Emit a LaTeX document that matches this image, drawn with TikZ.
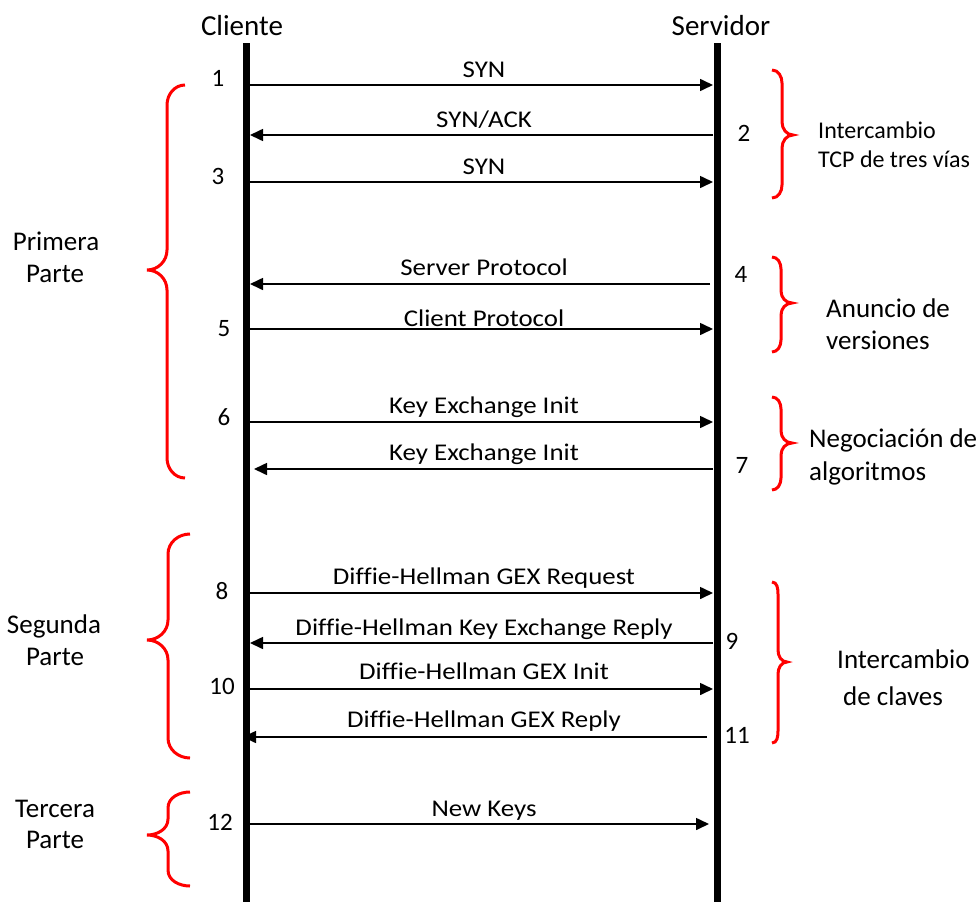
\documentclass[tikz,border=0pt]{standalone}
\usepackage{fontspec}
\setmainfont{Carlito}
\newfontfamily\msgfont[FakeStretch=1.12,Ligatures=NoCommon]{Carlito}
\usetikzlibrary{arrows.meta}
\newcommand\drawLB[7]{% xr xv xt yt ym yb r
  \draw[bracestyle] (#1,#4) to[out=180,in=90] (#2,#4+#7) -- (#2,#5-#7)
    to[out=-90,in=0] (#3,#5) to[out=0,in=90] (#2,#5+#7) -- (#2,#6-#7)
    to[out=-90,in=180] (#1,#6);}
\newcommand\drawRB[7]{% xl xv xt yt ym yb r
  \draw[bracestyle] (#1,#4) to[out=0,in=90] (#2,#4+#7) -- (#2,#5-#7)
    to[out=-90,in=180] (#3,#5) to[out=180,in=90] (#2,#5+#7) -- (#2,#6-#7)
    to[out=-90,in=0] (#1,#6);}
\begin{document}
\begin{tikzpicture}[x=1pt,y=-1pt,
  life/.style={line width=7pt},
  msg/.style={line width=1.6pt,-{Triangle[length=13pt,width=12pt]}},
  lbl/.style={font=\msgfont\fontsize{24}{28}\selectfont,inner sep=0pt,anchor=base},
  num/.style={font=\fontsize{25}{29}\selectfont,inner sep=0pt},
  hdr/.style={font=\fontsize{29}{34}\selectfont,inner sep=0pt,anchor=base},
  sidebig/.style={font=\fontsize{27}{32}\selectfont,inner sep=0pt,anchor=base west},
  sidesmall/.style={font=\fontsize{24}{28}\selectfont,inner sep=0pt,anchor=base west},
  leftlbl/.style={font=\fontsize{27}{32}\selectfont,inner sep=0pt,anchor=base},
  bracestyle/.style={red,line width=3pt}]
\path[use as bounding box] (0,0) rectangle (977,902);

% headers and lifelines
\node[hdr] (hc) at (242,35) {Cliente};
\node[hdr] (hs) at (721,35) {Servidor};
\coordinate (ct) at (246,43);
\coordinate (cb) at (246,902);
\coordinate (st) at (717,43);
\coordinate (sb) at (717,902);
\draw[life] (ct) -- (cb);
\draw[life] (st) -- (sb);

% message end points
\coordinate (c1) at (250,85);   \coordinate (s1) at (713,85);
\coordinate (c2) at (250,135);  \coordinate (s2) at (713,135);
\coordinate (c3) at (250,182);  \coordinate (s3) at (713,182);
\coordinate (c4) at (250,284);  \coordinate (s4) at (710,284);
\coordinate (c5) at (250,329);  \coordinate (s5) at (713,329);
\coordinate (c6) at (250,422);  \coordinate (s6) at (713,422);
\coordinate (c7) at (254,469);  \coordinate (s7) at (713,469);
\coordinate (c8) at (250,593);  \coordinate (s8) at (713,593);
\coordinate (c9) at (250,643);  \coordinate (s9) at (713,643);
\coordinate (c10) at (250,689); \coordinate (s10) at (713,689);
\coordinate (c11) at (243,737); \coordinate (s11) at (707,737);
\coordinate (c12) at (250,824); \coordinate (s12) at (709,824);

\draw[msg] (c1) -- (s1);
\draw[msg] (s2) -- (c2);
\draw[msg] (c3) -- (s3);
\draw[msg] (s4) -- (c4);
\draw[msg] (c5) -- (s5);
\draw[msg] (c6) -- (s6);
\draw[msg] (s7) -- (c7);
\draw[msg] (c8) -- (s8);
\draw[msg] (s9) -- (c9);
\draw[msg] (c10) -- (s10);
\draw[msg] (s11) -- (c11);
\draw[msg] (c12) -- (s12);

% message labels
\node[lbl] (m1) at (484,77) {SYN};
\node[lbl] (m2) at (484,127) {SYN/ACK};
\node[lbl] (m3) at (484,174) {SYN};
\node[lbl] (m4) at (484,275) {Server Protocol};
\node[lbl] (m5) at (484,326) {Client Protocol};
\node[lbl] (m6) at (484,413) {Key Exchange Init};
\node[lbl] (m7) at (484,460) {Key Exchange Init};
\node[lbl] (m8) at (484,584) {Diffie-Hellman GEX Request};
\node[lbl] (m9) at (484,635) {Diffie-Hellman Key Exchange Reply};
\node[lbl] (m10) at (484,679) {Diffie-Hellman GEX Init};
\node[lbl] (m11) at (484,727) {Diffie-Hellman GEX Reply};
\node[lbl] (m12) at (484,816) {New Keys};

% step numbers
\node[num] (n1) at (218,78) {1};
\node[num] (n2) at (744,133) {2};
\node[num] (n3) at (218,176) {3};
\node[num] (n4) at (741,274) {4};
\node[num] (n5) at (224,329) {5};
\node[num] (n6) at (224,417) {6};
\node[num] (n7) at (742,465) {7};
\node[num] (n8) at (222,591) {8};
\node[num] (n9) at (732,641) {9};
\node[num] (n10) at (222,686) {10};
\node[num] (n11) at (737,735) {11};
\node[num] (n12) at (220,822) {12};

% left braces
\drawLB{185}{167}{147}{85}{270}{478}{20}
\drawLB{190}{168}{147}{534}{640}{758}{20}
\drawLB{190}{168}{147}{792}{835}{886}{16}

% right braces
\drawRB{772}{782}{793}{70}{135}{198}{13}
\drawRB{772}{781}{792}{257}{303}{352}{12}
\drawRB{772}{781}{792}{397}{443}{490}{12}
\drawRB{772}{778}{787}{582}{662}{743}{12}

% left labels
\node[leftlbl] (p1a) at (56,250) {Primera};
\node[leftlbl] (p1b) at (55,282) {Parte};
\node[leftlbl] (p2a) at (54,633) {Segunda};
\node[leftlbl] (p2b) at (55,665) {Parte};
\node[leftlbl] (p3a) at (55,817) {Tercera};
\node[leftlbl] (p3b) at (55,848) {Parte};

% right labels
\node[sidesmall] (r1a) at (818,138) {Intercambio};
\node[sidesmall] (r1b) at (818,167) {TCP de tres vías};
\node[sidebig] (r2a) at (826,317) {Anuncio de};
\node[sidebig] (r2b) at (826,349) {versiones};
\node[sidebig] (r3a) at (809,447) {Negociación de};
\node[sidebig] (r3b) at (809,480) {algoritmos};
\node[sidebig] (r4a) at (837,668) {Intercambio};
\node[sidebig] (r4b) at (843,705) {de claves};
\end{tikzpicture}
\end{document}
